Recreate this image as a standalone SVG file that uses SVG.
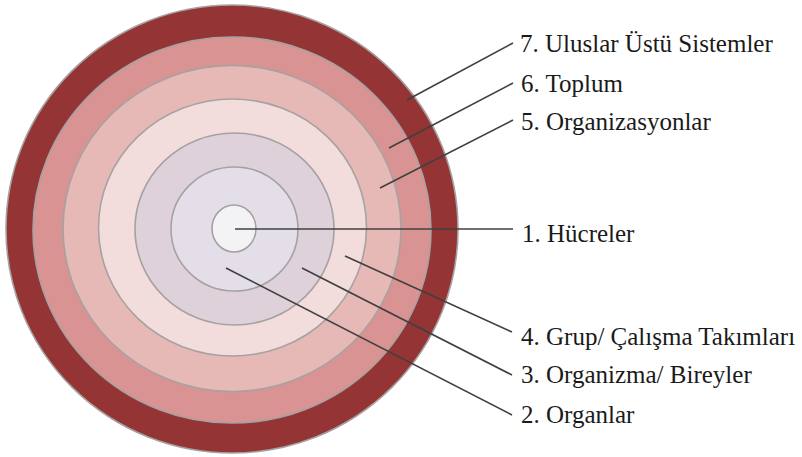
<svg xmlns="http://www.w3.org/2000/svg" width="802" height="457" viewBox="0 0 802 457">
<style>
.ring{stroke:#a6a2a2;stroke-width:1.6}
.lbl{font-size:25px;fill:#1a1a1a}
.conn line{stroke:#404040;stroke-width:1.6}
</style>
<rect width="802" height="457" fill="#ffffff"/>
<g id="n7"><ellipse class="ring" cx="232" cy="229" rx="226" ry="224" fill="#943434"/></g>
<g id="n6"><ellipse class="ring" cx="232" cy="230" rx="199" ry="193" fill="#d99393"/></g>
<g id="n5"><ellipse class="ring" cx="232" cy="228.5" rx="169" ry="163" fill="#e6b8b6"/></g>
<g id="n4"><ellipse class="ring" cx="232.5" cy="227.5" rx="134" ry="128.5" fill="#f2dcdc"/></g>
<g id="n3"><ellipse class="ring" cx="234.5" cy="229" rx="99.5" ry="96" fill="#dfd1da"/></g>
<g id="n2"><ellipse class="ring" cx="234.5" cy="229" rx="63.5" ry="62" fill="#e3dee8"/></g>
<g id="n1"><ellipse class="ring" cx="234" cy="228.5" rx="22" ry="23.5" fill="#f3f2f5"/></g>
<g id="connectors" class="conn">
<line x1="407" y1="100" x2="513" y2="43"/>
<line x1="389" y1="148" x2="513" y2="83"/>
<line x1="380" y1="188" x2="513" y2="120"/>
<line x1="235" y1="229" x2="513" y2="229"/>
<line x1="345" y1="256" x2="512" y2="332"/>
<line x1="302" y1="268" x2="512" y2="375"/>
<line x1="226" y1="268" x2="512" y2="415"/>
</g>
<g id="labels">
<text class="lbl" x="520" y="52" font-family="Liberation Serif">7. Uluslar Üstü Sistemler</text>
<text class="lbl" x="521" y="92" font-family="Liberation Serif">6. Toplum</text>
<text class="lbl" x="521" y="130" font-family="Liberation Serif">5. Organizasyonlar</text>
<text class="lbl" x="522" y="242" font-family="Liberation Serif">1. Hücreler</text>
<text class="lbl" x="521" y="345" font-family="Liberation Serif">4. Grup/ Çalışma Takımları</text>
<text class="lbl" x="521" y="383" font-family="Liberation Serif">3. Organizma/ Bireyler</text>
<text class="lbl" x="521" y="423" font-family="Liberation Serif">2. Organlar</text>
</g>
</svg>
